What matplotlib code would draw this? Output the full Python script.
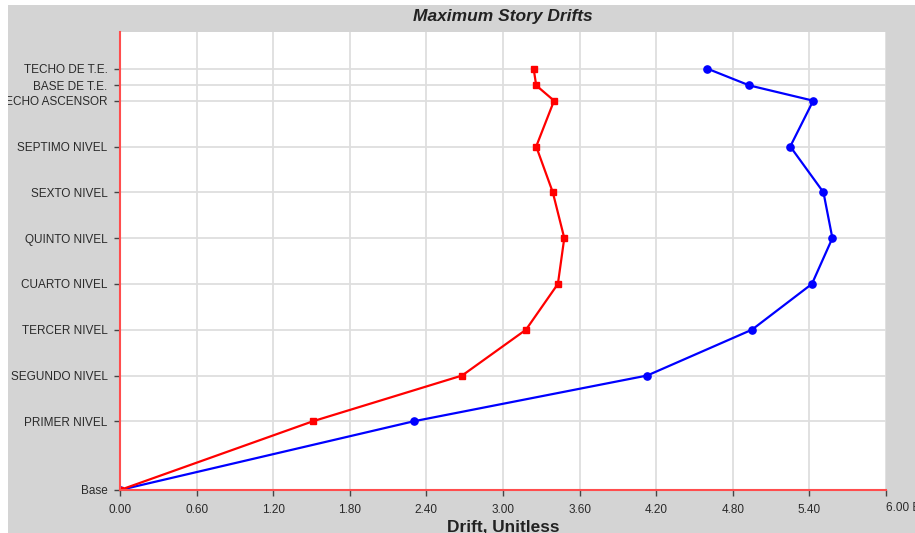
import matplotlib.pyplot as plt
from matplotlib.patches import Rectangle

plt.rcParams['font.family'] = ['Liberation Sans', 'DejaVu Sans']

# story names and elevations (m)
stories = ['Base', 'PRIMER NIVEL', 'SEGUNDO NIVEL', 'TERCER NIVEL', 'CUARTO NIVEL',
           'QUINTO NIVEL', 'SEXTO NIVEL', 'SEPTIMO NIVEL', 'TECHO ASCENSOR',
           'BASE DE T.E.', 'TECHO DE T.E.']
elev = [0.0, 4.5, 7.5, 10.5, 13.5, 16.5, 19.5, 22.5, 25.5, 26.5, 27.6]

# drifts (x 1e-3)
drift_red = [0.0, 1.51, 2.68, 3.18, 3.43, 3.48, 3.39, 3.26, 3.40, 3.26, 3.24]
drift_blue = [0.0, 2.30, 4.13, 4.95, 5.42, 5.58, 5.51, 5.25, 5.43, 4.93, 4.60]

xticks = [0.0, 0.6, 1.2, 1.8, 2.4, 3.0, 3.6, 4.2, 4.8, 5.4, 6.0]

W, H = 915, 533
fig = plt.figure(figsize=(W / 100, H / 100), dpi=100, facecolor='white')
fig.patches.append(Rectangle((8 / W, 0), 1, (H - 5) / H, transform=fig.transFigure,
                             facecolor='#d4d4d4', edgecolor='none', zorder=-10))

ax = fig.add_axes([120 / W, 43 / H, 766 / W, 458 / H])
ax.set_facecolor('white')

ax.plot(drift_blue, elev, color='#0000ff', lw=1.6, marker='o', ms=5.2, zorder=3)
ax.plot(drift_red, elev, color='#ff0000', lw=1.6, marker='s', ms=4.6, zorder=4)

ax.set_xlim(0, 6.0)
ax.set_ylim(0, 30.0)

ax.set_xticks(xticks)
labels = ['%.2f' % v for v in xticks]
labels[-1] = ''
ax.set_xticklabels(labels)
ax.text(6.0, -0.026, '6.00 E-3', transform=ax.get_xaxis_transform(), ha='left', va='top',
        fontsize=8.5, color='#2a2a2a', clip_on=False)
ax.set_yticks(elev)
ax.set_yticklabels(stories)

ax.tick_params(axis='both', labelsize=8.5, labelcolor='#2a2a2a', color='#444444',
               length=4, width=1)
ax.tick_params(axis='x', pad=6)
ax.tick_params(axis='y', pad=5)

ax.grid(True, color='#dedede', lw=1.3, zorder=0)
ax.set_axisbelow(True)

for s in ['top', 'right']:
    ax.spines[s].set_visible(False)
for s in ['left', 'bottom']:
    ax.spines[s].set_color('#ff4d4d')
    ax.spines[s].set_linewidth(1.5)
    ax.spines[s].set_zorder(5)

fig.text(503 / W, 1 - 16 / H, 'Maximum Story Drifts', ha='center', va='center',
         fontsize=12.5, fontweight='bold', fontstyle='italic', color='#222222')
fig.text(503 / W, 1 - 520 / H, 'Drift, Unitless', ha='center', va='top',
         fontsize=12.4, fontweight='bold', color='#222222')

# white strip on the left hides the clipped start of long labels
fig.patches.append(Rectangle((0, 0), 8 / W, 1, transform=fig.transFigure,
                             facecolor='white', edgecolor='none', zorder=10))

plt.savefig('out.png', dpi=100)
